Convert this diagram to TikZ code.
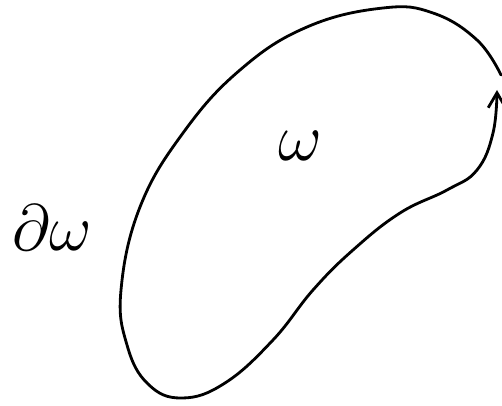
\documentclass[tikz,border=0pt]{standalone}
\usepackage{tikz}
\usetikzlibrary{arrows.meta}

\begin{document}
\begin{tikzpicture}[x=0.02cm, y=-0.02cm]
\useasboundingbox (0,0) rectangle (502,405);
% Boundary of the region, with its orientation
\draw[line width=1.6pt, line cap=round, -{Straight Barb[length=3mm, width=3.5mm]}]
  plot[smooth, tension=0.7] coordinates {(501,75) (477,40) (433,13) (383,8) (307,27)
  (240,70) (183,133) (140,207) (121,290) (127,345) (148,384) (182,398) (225,383)
  (273,340) (313,290) (353,250) (400,213) (447,190) (477,170) (493,133) (497,90)};

% Labels
\node[font=\Huge, scale=1.55, transform shape] (region) at (300,146) {$\omega$};
\node[font=\Huge, scale=1.5, transform shape] (boundary) at (52,228) {$\partial\omega$};
\end{tikzpicture}
\end{document}
